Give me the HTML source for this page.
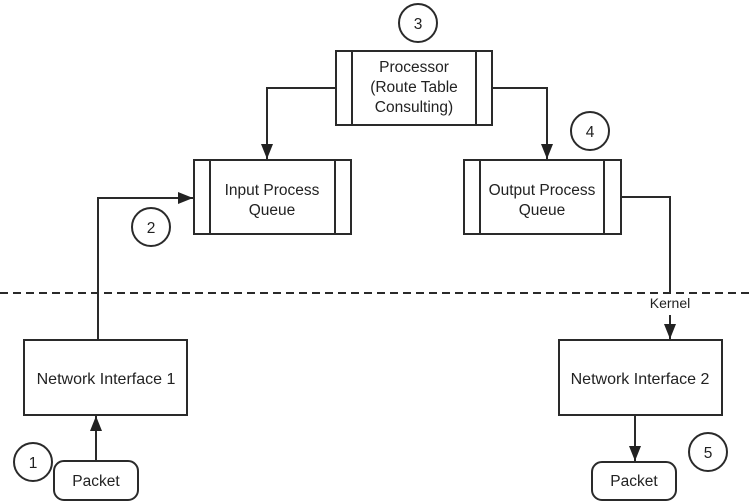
<!DOCTYPE html>
<html><head><style>
html,body{margin:0;padding:0;background:#fff;}
svg{display:block;}
text{font-family:"Liberation Sans",sans-serif;font-size:15.5px;fill:#222;text-anchor:middle;}
</style></head><body>
<svg width="750" height="502" viewBox="0 0 750 502" xmlns="http://www.w3.org/2000/svg">
<defs>
<marker id="b" viewBox="0 0 10 10" refX="10" refY="5" markerWidth="15" markerHeight="15" markerUnits="userSpaceOnUse" orient="auto"><path d="M0,1 L10,5 L0,9 z" fill="#222"/></marker></defs>
<g stroke="#2a2a2a" stroke-width="2" fill="none">
<line x1="0" y1="293" x2="750" y2="293" stroke-dasharray="8,5"/>
<circle cx="418" cy="23" r="19"/>
<rect x="336" y="51" width="156" height="74"/><line x1="352" y1="51" x2="352" y2="125"/><line x1="476" y1="51" x2="476" y2="125"/>
<rect x="194" y="160" width="157" height="74"/><line x1="210" y1="160" x2="210" y2="234"/><line x1="335" y1="160" x2="335" y2="234"/>
<rect x="464" y="160" width="157" height="74"/><line x1="480" y1="160" x2="480" y2="234"/><line x1="604" y1="160" x2="604" y2="234"/>
<circle cx="590" cy="131" r="19"/>
<circle cx="151" cy="227" r="19"/>
<circle cx="33" cy="462" r="19"/>
<circle cx="708" cy="452" r="19"/>
<rect x="24" y="340" width="163" height="75"/>
<rect x="559" y="340" width="163" height="75"/>
<rect x="54" y="461" width="84" height="39" rx="10"/>
<rect x="592" y="462" width="84" height="38" rx="10"/>
<polyline points="336,88 267,88 267,159" marker-end="url(#b)"/>
<polyline points="492,88 547,88 547,159" marker-end="url(#b)"/>
<polyline points="98,340 98,198 193,198" marker-end="url(#b)"/>
<polyline points="621,197 670,197 670,293"/>
<line x1="670" y1="315" x2="670" y2="339" marker-end="url(#b)"/>
<line x1="96" y1="461" x2="96" y2="416" marker-end="url(#b)"/>
<line x1="635" y1="415" x2="635" y2="461" marker-end="url(#b)"/>
</g>
<text x="418" y="29">3</text>
<text x="590" y="137">4</text>
<text x="151" y="233">2</text>
<text x="33" y="468">1</text>
<text x="708" y="458">5</text>
<text x="414" y="72">Processor</text>
<text x="414" y="92">(Route Table</text>
<text x="414" y="112">Consulting)</text>
<text x="272" y="195">Input Process</text>
<text x="272" y="215">Queue</text>
<text x="542" y="195">Output Process</text>
<text x="542" y="215">Queue</text>
<text x="670" y="308" style="font-size:14px">Kernel</text>
<text x="106" y="384" style="font-size:16px">Network Interface 1</text>
<text x="640" y="384" style="font-size:16px">Network Interface 2</text>
<text x="96" y="486">Packet</text>
<text x="634" y="486">Packet</text>
</svg>
</body></html>
